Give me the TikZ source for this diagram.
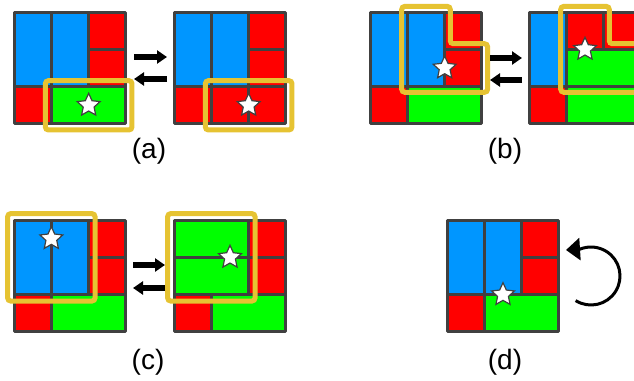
\documentclass[tikz,border=0pt]{standalone}
\usepackage{fontspec}
\setmainfont{Liberation Sans}
\usetikzlibrary{positioning, arrows.meta, shapes.geometric}
\definecolor{edgegray}{RGB}{64,64,64}
\definecolor{tileblue}{RGB}{0,150,255}
\definecolor{tilered}{RGB}{255,0,0}
\definecolor{tilegreen}{RGB}{0,255,0}
\definecolor{hiyellow}{RGB}{230,195,50}
\tikzset{
  cell/.style={
    draw=edgegray,
    line width=3pt,
    line join=round
  },
  blu/.style={cell, fill=tileblue},
  rd/.style={cell, fill=tilered},
  grn/.style={cell, fill=tilegreen},
  hilite/.style={
    draw=hiyellow,
    line width=5pt,
    rounded corners=3pt
  },
  starmark/.style={
    star,
    star points=5,
    star point ratio=2.1,
    fill=white,
    draw=edgegray,
    line width=1.2pt,
    minimum size=24pt,
    inner sep=0pt
  },
  swap/.style={
    line width=6pt,
    -{Triangle[length=10pt,width=13pt]}
  },
  lbl/.style={
    font=\fontsize{28}{32}\selectfont,
    inner sep=0pt
  },
  board/.style={x=37.33pt, y=-37.33pt}
}
% starting layout of the 3x3 board
\newcommand{\startboard}{%
  \draw[blu] (0,0) rectangle (1,2);
  \draw[blu] (1,0) rectangle (2,2);
  \draw[rd] (2,0) rectangle (3,1);
  \draw[rd] (2,1) rectangle (3,2);
  \draw[rd] (0,2) rectangle (1,3);
  \draw[grn] (1,2) rectangle (3,3);
}
\begin{document}
\begin{tikzpicture}[x=1pt, y=-1pt]
  \useasboundingbox (0,0) rectangle (634,380);
  \clip (0,0) rectangle (634,380);

  % (a)
  \begin{scope}[shift={(14,12)}, board]
    \startboard
    \draw[hilite] (0.84,1.84) rectangle (3.16,3.16);
    \node[starmark] (starAL) at (2,2.5) {};
  \end{scope}
  \begin{scope}[shift={(174,12)}, board]
    \draw[blu] (0,0) rectangle (1,2);
    \draw[blu] (1,0) rectangle (2,2);
    \draw[rd] (2,0) rectangle (3,1);
    \draw[rd] (2,1) rectangle (3,2);
    \draw[rd] (0,2) rectangle (1,3);
    \draw[rd] (1,2) rectangle (2,3);
    \draw[rd] (2,2) rectangle (3,3);
    \draw[hilite] (0.84,1.84) rectangle (3.16,3.16);
    \node[starmark] (starAR) at (2,2.5) {};
  \end{scope}
  \coordinate (aFwdS) at (134,57);
  \coordinate (aFwdE) at (167,57);
  \coordinate (aBckS) at (167,79);
  \coordinate (aBckE) at (134,79);
  \draw[swap] (aFwdS) -- (aFwdE);
  \draw[swap] (aBckS) -- (aBckE);
  \node[lbl] (labA) at (149,151) {(a)};

  % (b)
  \begin{scope}[shift={(370,12)}, board]
    \startboard
    \draw[hilite] (0.85,-0.15) -- (2.15,-0.15) -- (2.15,0.85) -- (3.15,0.85)
      -- (3.15,2.15) -- (0.85,2.15) -- cycle;
    \node[starmark] (starBL) at (2,1.5) {};
  \end{scope}
  \begin{scope}[shift={(529,12)}, board]
    \draw[blu] (0,0) rectangle (1,2);
    \draw[rd] (1,0) rectangle (2,1);
    \draw[rd] (2,0) rectangle (3,1);
    \draw[grn] (1,1) rectangle (3,2);
    \draw[rd] (0,2) rectangle (1,3);
    \draw[grn] (1,2) rectangle (3,3);
    \draw[hilite] (0.85,-0.15) -- (2.15,-0.15) -- (2.15,0.85) -- (3.15,0.85)
      -- (3.15,2.15) -- (0.85,2.15) -- cycle;
    \node[starmark] (starBR) at (1.5,1) {};
  \end{scope}
  \coordinate (bFwdS) at (490,58);
  \coordinate (bFwdE) at (522,58);
  \coordinate (bBckS) at (522,80);
  \coordinate (bBckE) at (490,80);
  \draw[swap] (bFwdS) -- (bFwdE);
  \draw[swap] (bBckS) -- (bBckE);
  \node[lbl] (labB) at (505,151) {(b)};

  % (c)
  \begin{scope}[shift={(14,220)}, board]
    \startboard
    \draw[hilite] (-0.17,-0.17) rectangle (2.17,2.17);
    \node[starmark] (starCL) at (1,0.5) {};
  \end{scope}
  \begin{scope}[shift={(174,220)}, board]
    \draw[grn] (0,0) rectangle (2,1);
    \draw[grn] (0,1) rectangle (2,2);
    \draw[rd] (2,0) rectangle (3,1);
    \draw[rd] (2,1) rectangle (3,2);
    \draw[rd] (0,2) rectangle (1,3);
    \draw[grn] (1,2) rectangle (3,3);
    \draw[hilite] (-0.17,-0.17) rectangle (2.17,2.17);
    \node[starmark] (starCR) at (1.5,1) {};
  \end{scope}
  \coordinate (cFwdS) at (133,265);
  \coordinate (cFwdE) at (165,265);
  \coordinate (cBckS) at (165,288);
  \coordinate (cBckE) at (133,288);
  \draw[swap] (cFwdS) -- (cFwdE);
  \draw[swap] (cBckS) -- (cBckE);
  \node[lbl] (labC) at (148,362) {(c)};

  % (d)
  \begin{scope}[shift={(447,220)}, board]
    \startboard
    \node[starmark] (starD) at (1.5,2) {};
  \end{scope}
  \coordinate (turnC) at (591,276);
  \coordinate (turnTip) at (566,250);
  \draw[line width=3pt, -{Triangle[length=14pt,width=22pt]}]
    ([shift={(-122:29pt)}]turnC) arc[start angle=-122, end angle=112, radius=29pt]
    -- (turnTip);
  \node[lbl] (labD) at (505,362) {(d)};
\end{tikzpicture}
\end{document}
